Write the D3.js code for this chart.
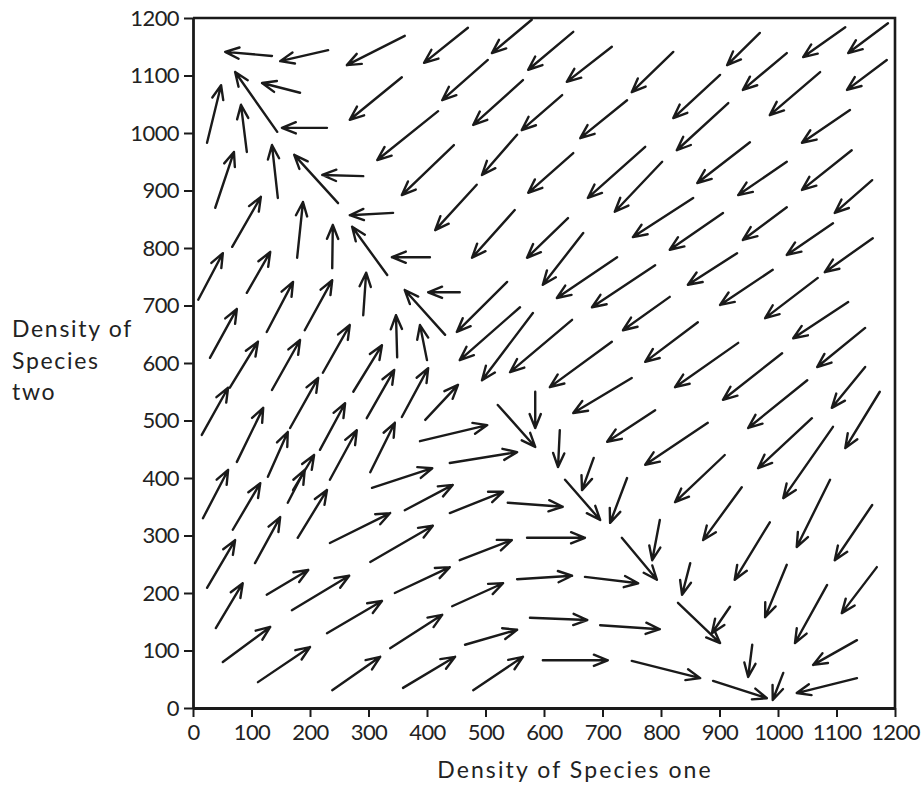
<!DOCTYPE html>
<html>
<head>
<meta charset="utf-8">
<script src="https://cdn.jsdelivr.net/npm/d3@7"></script>
<style>
  html, body { margin: 0; padding: 0; background: #fff; }
  svg { display: block; }
  text { font-family: Lato, "Open Sans", sans-serif; fill: #222; }
</style>
</head>
<body>
<svg id="chart" width="924" height="785"></svg>
<script>
// ---- axis ticks ----
const xTicks = [0,100,200,300,400,500,600,700,800,900,1000,1100,1200];
const yTicks = [0,100,200,300,400,500,600,700,800,900,1000,1100,1200];
const xTitle = "Density of Species one";
const yTitle = ["Density of", "Species", "two"];

// ---- arrows: [x tail, y tail, x head, y head] in density units ----
const flowTopLeft = [
  [135,1134,55,1141],[231,1144,149,1125],[362,1169,263,1118],[470,1183,395,1122],
  [144,1002,72,1106],[183,1070,118,1087],[24,983,48,1083],[92,967,82,1049],
  [229,1009,152,1009],[38,870,70,967],[145,887,135,979],[248,878,173,962],
  [291,925,221,927],[67,802,116,889],[178,783,188,880],[238,765,239,840],
  [332,753,272,837],[342,861,268,857],[357,1097,268,1023],[419,1038,315,953],
  [446,979,357,892],[485,910,414,831],[504,1127,426,1057]
];
const flowTopMid = [
  [579,1197,511,1139],[650,1176,573,1110],[716,1150,639,1089],[821,1141,750,1071],
  [564,1092,479,1014],[631,1066,562,1005],[742,1057,662,991],[554,997,494,927],
  [650,965,573,896],[773,976,675,887],[802,950,721,863],[855,887,752,819],
  [550,866,477,783],[641,852,571,783],[667,826,598,736],[725,784,622,713],
  [790,770,682,697],[815,715,735,657],[863,671,773,602]
];
const flowTopRight = [
  [969,1174,913,1118],[1115,1184,1043,1132],[1188,1191,1120,1139],[1015,1139,940,1075],
  [1186,1127,1118,1075],[1072,1106,986,1031],[901,1101,821,1026],[915,1052,827,970],
  [1123,1040,1041,983],[952,984,862,913],[1015,950,932,892],[1126,970,1041,901],
  [1161,918,1097,861],[906,861,815,797],[1015,871,940,814],[1094,843,1015,788],
  [1162,817,1080,758]
];
const flowRight = [
  [930,791,846,736],[991,762,901,701],[1068,748,978,678],[1120,706,1026,643],
  [1149,661,1067,593],[1149,593,1092,522],[1174,550,1115,452],[932,635,824,558],
  [1007,617,906,536],[1050,570,949,487],[1058,504,966,417],[1094,489,1009,365],
  [880,496,773,423],[909,440,824,358],[938,384,872,292],[986,323,926,223],
  [1089,397,1032,280],[1161,353,1097,257],[1169,245,1109,165],[1015,249,978,158],
  [1084,214,1029,113],[1135,118,1060,75],[1135,52,1032,26],[1009,61,991,14],
  [956,110,949,54],[889,47,981,17],[750,82,867,52],[829,183,901,113],
  [918,176,887,130],[850,252,836,197],[798,327,785,257],[733,296,793,223]
];
const flowCentre = [
  [537,741,451,654],[559,697,456,605],[581,687,494,570],[648,675,542,584],
  [716,637,610,558],[750,574,650,513],[790,518,708,463],[456,723,402,723],
  [431,649,362,727],[405,784,340,784],[397,501,453,562],[521,527,585,454],
  [585,550,585,487],[627,483,624,419],[636,397,696,327],[685,435,665,379],
  [742,400,713,322]
];
const flowLower = [
  [388,464,503,492],[439,426,554,445],[306,383,409,417],[362,344,444,388],
  [439,339,530,376],[538,357,632,350],[234,287,337,339],[303,254,410,317],
  [456,257,545,292],[571,296,670,296],[345,200,439,245],[443,177,530,217],
  [554,224,648,230],[670,228,761,217],[576,157,674,153],[696,144,798,137],
  [598,83,709,83],[465,110,554,136],[479,31,564,89],[359,35,448,89],
  [337,104,426,162],[238,31,320,89],[229,130,323,186],[111,45,200,106],
  [51,80,132,141],[169,170,267,230],[126,197,197,240]
];
const flowLeft = [
  [9,710,51,791],[92,722,132,793],[126,654,171,741],[191,657,238,744],
  [291,683,296,757],[29,609,75,694],[349,610,347,683],[400,605,388,666],
  [63,557,111,637],[135,553,183,640],[222,583,268,666],[274,550,323,631],
  [15,475,60,557],[166,487,214,574],[128,402,162,480],[297,504,344,588],
  [357,506,402,591],[75,428,120,522],[217,449,260,530],[303,410,345,496],
  [234,397,280,483],[171,379,207,440],[17,330,60,414],[68,310,115,391],
  [162,357,191,414],[179,296,229,379],[106,252,149,332],[24,209,72,292],
  [39,139,85,217]
];

const arrows = [].concat(flowTopLeft, flowTopMid, flowTopRight, flowRight,
                         flowCentre, flowLower, flowLeft);

// ---- layout ----
const svg = d3.select("#chart");
const x = d3.scaleLinear().domain([0, 1200]).range([193, 895]);
const y = d3.scaleLinear().domain([0, 1200]).range([708, 18]);

// frame (top & right)
svg.append("path")
  .attr("d", `M${x(0)},${y(1200)}H${x(1200)}V${y(0)}`)
  .attr("fill", "none").attr("stroke", "#1a1a1a").attr("stroke-width", 2.6);

// axes
const fmt = d3.format("d");
const xAxis = svg.append("g").attr("transform", `translate(0,${y(0)})`)
  .call(d3.axisBottom(x).tickValues(xTicks).tickFormat(fmt).tickSize(9).tickPadding(7).tickSizeOuter(0));
const yAxis = svg.append("g").attr("transform", `translate(${x(0)},0)`)
  .call(d3.axisLeft(y).tickValues(yTicks).tickFormat(fmt).tickSize(9).tickPadding(5).tickSizeOuter(0));
[xAxis, yAxis].forEach(g => {
  g.select(".domain").attr("stroke", "#1a1a1a").attr("stroke-width", 2.8);
  g.selectAll(".tick line").attr("stroke", "#1a1a1a").attr("stroke-width", 2);
  g.selectAll(".tick text").attr("font-family", "Lato, sans-serif")
    .attr("font-size", 22).attr("fill", "#222").attr("letter-spacing", -0.6);
});

// titles
svg.append("text").attr("x", 575).attr("y", 778).attr("text-anchor", "middle")
  .attr("font-size", 23).attr("letter-spacing", 2.1).text(xTitle);
svg.append("g").selectAll("text").data(yTitle).join("text")
  .attr("x", 12).attr("y", (d, i) => 337 + i * 31.5)
  .attr("font-size", 23).attr("letter-spacing", 1.7).text(d => d);

// arrows
const headLen = 15, headAng = 22 * Math.PI / 180;
function arrowPath(d) {
  const x0 = x(d[0]), y0 = y(d[1]), x1 = x(d[2]), y1 = y(d[3]);
  const a = Math.atan2(y1 - y0, x1 - x0);
  const bx1 = x1 - headLen * Math.cos(a - headAng), by1 = y1 - headLen * Math.sin(a - headAng);
  const bx2 = x1 - headLen * Math.cos(a + headAng), by2 = y1 - headLen * Math.sin(a + headAng);
  return `M${x0},${y0}L${x1},${y1}M${bx1},${by1}L${x1},${y1}L${bx2},${by2}`;
}
svg.append("g").selectAll("path").data(arrows).join("path")
  .attr("d", arrowPath)
  .attr("fill", "none").attr("stroke", "#1a1a1a").attr("stroke-width", 2.4)
  .attr("stroke-linecap", "round").attr("stroke-linejoin", "round");
</script>
</body>
</html>
